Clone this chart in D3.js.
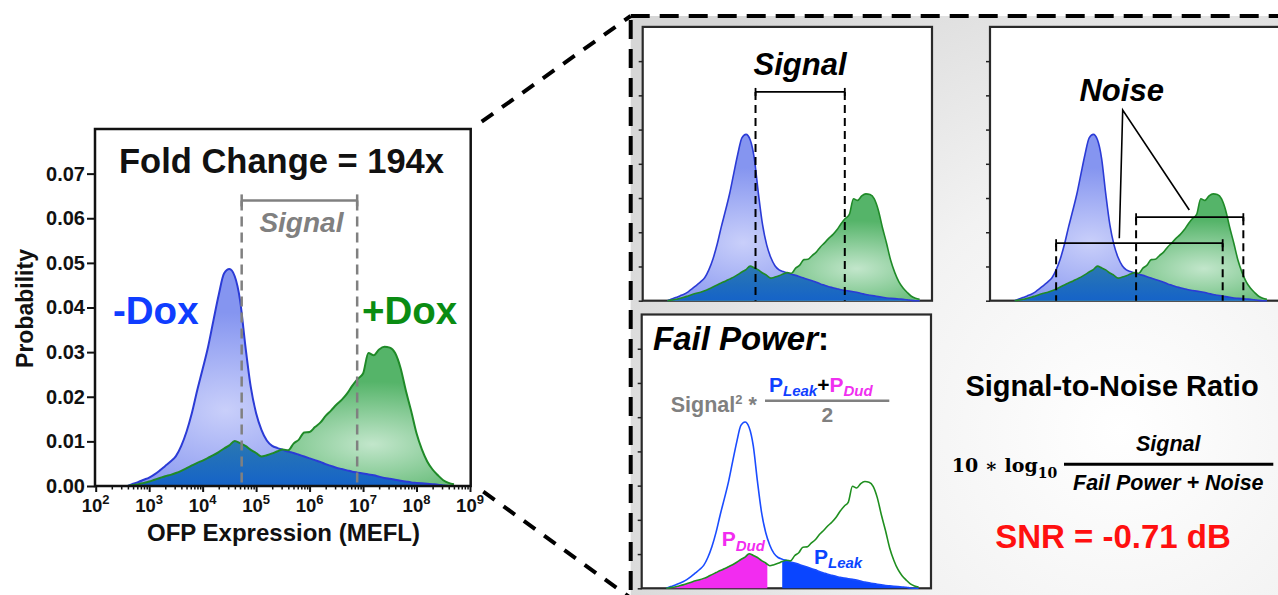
<!DOCTYPE html>
<html>
<head>
<meta charset="utf-8">
<script src="https://cdn.jsdelivr.net/npm/d3@7"></script>
<style>
body{margin:0;background:#fff;}
text{font-weight:bold;}
</style>
</head>
<body>
<svg id="fig" width="1278" height="595" font-family="Liberation Sans, Arial, sans-serif"></svg>
<script>
// histogram bins, log10(MEFL)
const logMEFL = [2.6,2.7,2.8,2.9,3.0,3.1,3.2,3.3,3.4,3.5,3.6,3.7,3.8,3.9,4.0,4.1,4.2,4.3,4.4,4.5,
  4.6,4.7,4.8,4.9,5.0,5.1,5.2,5.3,5.4,5.5,5.6,5.7,5.8,5.9,6.0,6.1,6.2,6.3,6.4,6.5,
  6.6,6.7,6.8,6.9,7.0,7.1,7.2,7.3,7.4,7.5,7.6,7.7,7.8,7.9,8.0,8.1,8.2,8.3,8.4,8.5,8.6,8.7];
// -Dox probability
const minusDox = [0,0.0005,0.0009,0.0014,0.0019,0.0026,0.0035,0.0045,0.0055,0.0067,0.0090,0.0122,0.0164,0.0215,0.0262,0.0311,0.0370,0.0428,0.0476,0.0486,
  0.0470,0.0416,0.0313,0.0222,0.0163,0.0126,0.0102,0.0090,0.0085,0.0081,0.0077,0.0074,0.0070,0.0066,0.0062,0.0058,0.0054,0.0049,0.0045,0.0041,
  0.0038,0.0035,0.0032,0.0030,0.0028,0.0026,0.0024,0.0021,0.0018,0.0016,0.0014,0.0012,0.0010,0.0008,0.0007,0.0006,0.0005,0.0004,0.0003,0.0001,0,0];
// +Dox probability
const plusDox = [0,0.0002,0.0004,0.0007,0.0010,0.0014,0.0018,0.0022,0.0025,0.0029,0.0034,0.0040,0.0046,0.0052,0.0057,0.0063,0.0069,0.0076,0.0084,0.0091,
  0.0101,0.0096,0.0090,0.0081,0.0074,0.0066,0.0069,0.0073,0.0078,0.0082,0.0080,0.0095,0.0104,0.0120,0.0121,0.0132,0.0142,0.0157,0.0169,0.0182,
  0.0193,0.0207,0.0225,0.0240,0.0252,0.0298,0.0293,0.0306,0.0312,0.0310,0.0298,0.0265,0.0214,0.0168,0.0118,0.0082,0.0055,0.0037,0.0024,0.0013,0.0007,0.0004];

const probTicks = [0,0.01,0.02,0.03,0.04,0.05,0.06,0.07];
const decades = [2,3,4,5,6,7,8,9];
const minorSteps = [2,3,4,5,6,7,8,9];
const signalEdges = [4.73, 6.89];
const noiseMinus = [3.60, 7.63];
const noisePlus = [5.535, 8.13];
const dudMax = 5.04, leakMin = 5.40;
const foldChange = 194;
const snrDb = -0.71;

const pts = logMEFL.map((l,i)=>({l:l, b:minusDox[i], g:plusDox[i]}));
const svg = d3.select('#fig');
const defs = svg.append('defs');

function radial(id, c0, c1, cx, cy, r){
  const gr = defs.append('radialGradient').attr('id',id)
    .attr('cx',cx).attr('cy',cy).attr('r',r);
  gr.append('stop').attr('offset','0').attr('stop-color',c0);
  gr.append('stop').attr('offset','1').attr('stop-color',c1);
}
radial('gBlue','#c9cffa','#8595f0',0.3,0.65,0.45);
radial('gGreen','#c2e6cb','#55b469',0.75,0.7,0.45);
const go = defs.append('linearGradient').attr('id','gOver').attr('x1',0).attr('y1',0).attr('x2',0).attr('y2',1);
go.append('stop').attr('offset','0').attr('stop-color','#2a78b2');
go.append('stop').attr('offset','1').attr('stop-color','#1563c8');
const bg = defs.append('radialGradient').attr('id','bgGray').attr('gradientUnits','userSpaceOnUse')
  .attr('cx',1120).attr('cy',430).attr('r',560);
bg.append('stop').attr('offset','0').attr('stop-color','#ffffff');
bg.append('stop').attr('offset','0.45').attr('stop-color','#f2f2f2');
bg.append('stop').attr('offset','1').attr('stop-color','#d6d6d6');

function areaOf(x, y, key){
  return d3.area().x(d=>x(Math.pow(10,d.l))).y0(y(0)).y1(d=>y(key(d))).curve(d3.curveMonotoneX);
}
function lineOf(x, y, key){
  return d3.line().x(d=>x(Math.pow(10,d.l))).y(d=>y(key(d))).curve(d3.curveMonotoneX);
}
function drawFilled(g, x, y, sw){
  g.append('path').datum(pts).attr('d',areaOf(x,y,d=>d.b)).attr('fill','url(#gBlue)');
  g.append('path').datum(pts).attr('d',areaOf(x,y,d=>d.g)).attr('fill','url(#gGreen)');
  g.append('path').datum(pts).attr('d',areaOf(x,y,d=>Math.min(d.b,d.g))).attr('fill','url(#gOver)');
  g.append('path').datum(pts).attr('d',lineOf(x,y,d=>d.b)).attr('fill','none').attr('stroke','#2b3bd6').attr('stroke-width',sw);
  g.append('path').datum(pts).attr('d',lineOf(x,y,d=>d.g)).attr('fill','none').attr('stroke','#1f8a28').attr('stroke-width',sw);
}
function bracket(g, x0, x1, yy, color, w, cap){
  g.append('line').attr('x1',x0).attr('x2',x1).attr('y1',yy).attr('y2',yy).attr('stroke',color).attr('stroke-width',w);
  [x0,x1].forEach(v=>g.append('line').attr('x1',v).attr('x2',v).attr('y1',yy-cap).attr('y2',yy+cap)
    .attr('stroke',color).attr('stroke-width',w));
}
function vdash(g, xx, y0, y1, color, w, dash){
  g.append('line').attr('x1',xx).attr('x2',xx).attr('y1',y0).attr('y2',y1)
    .attr('stroke',color).attr('stroke-width',w).attr('stroke-dasharray',dash);
}

// ---------- main chart ----------
const x = d3.scaleLog().domain([1e2,1e9]).range([95.7,470]);
const y = d3.scaleLinear().domain([0,0.08]).range([486,129]);
const main = svg.append('g');
drawFilled(main, x, y, 2);

// signal annotation
const sy = y(0.064);
signalEdges.forEach(v=>vdash(main, x(Math.pow(10,v)), sy, y(0), '#808080', 2.5, '10 6'));
bracket(main, x(Math.pow(10,signalEdges[0])), x(Math.pow(10,signalEdges[1])), sy, '#808080', 2.5, 6);
main.append('text').attr('x',(x(Math.pow(10,signalEdges[0]))+x(Math.pow(10,signalEdges[1])))/2+2).attr('y',231.7)
  .attr('text-anchor','middle').attr('font-size',28).attr('font-style','italic').attr('fill','#808080').text('Signal');

main.append('rect').attr('x',95).attr('y',129).attr('width',375.7).attr('height',357)
  .attr('fill','none').attr('stroke','#111').attr('stroke-width',2.5);

// axes
const minorVals = [];
decades.slice(0,-1).forEach(d=>minorSteps.forEach(m=>minorVals.push(m*Math.pow(10,d))));
const ax = svg.append('g').attr('transform','translate(0,486)');
ax.append('g').call(d3.axisBottom(x).tickValues(minorVals.filter(v=>v<1e9)).tickSize(3.5).tickFormat(''))
  .call(g=>g.select('.domain').remove()).selectAll('line').attr('stroke','#111').attr('stroke-width',1.5);
ax.append('g').call(d3.axisBottom(x).tickValues(decades.map(d=>Math.pow(10,d))).tickSize(6).tickFormat(''))
  .call(g=>g.select('.domain').remove()).selectAll('line').attr('stroke','#111').attr('stroke-width',2);
decades.forEach(d=>{
  const t = svg.append('text').attr('x',x(Math.pow(10,d))).attr('y',511.7).attr('text-anchor','middle')
    .attr('font-size',18.5).attr('fill','#111');
  t.append('tspan').text('10');
  t.append('tspan').attr('font-size',13).attr('dy',-8).text(d);
});
const ay = svg.append('g').attr('transform','translate(95,0)')
  .call(d3.axisLeft(y).tickValues(probTicks).tickSize(8).tickPadding(2).tickFormat(d3.format('.2f')))
  .call(g=>g.select('.domain').remove());
ay.attr('font-family',null).attr('font-size',null);
ay.selectAll('line').attr('stroke','#111').attr('stroke-width',2);
ay.selectAll('text').attr('font-size',20).attr('fill','#111');

svg.append('text').attr('transform','translate(33,308.5) rotate(-90)').attr('text-anchor','middle')
  .attr('font-size',23).attr('fill','#111').text('Probability');
svg.append('text').attr('x',283.5).attr('y',540.7).attr('text-anchor','middle')
  .attr('font-size',24).attr('fill','#111').text('OFP Expression (MEFL)');
svg.append('text').attr('x',281.5).attr('y',172.7).attr('text-anchor','middle')
  .attr('font-size',34.5).attr('fill','#111').text('Fold Change = ' + foldChange + 'x');
svg.append('text').attr('x',113).attr('y',324).attr('font-size',38.5).attr('fill','#0f3dff').text('-Dox');
svg.append('text').attr('x',362).attr('y',324).attr('font-size',38.5).attr('fill','#0a8c12').text('+Dox');

// ---------- zoom region ----------
svg.append('rect').attr('x',630.7).attr('y',16).attr('width',720).attr('height',582)
  .attr('fill','url(#bgGray)').attr('stroke','#000').attr('stroke-width',4).attr('stroke-dasharray','19 10');
svg.append('line').attr('x1',481.7).attr('y1',121.7).attr('x2',630.7).attr('y2',16)
  .attr('stroke','#000').attr('stroke-width',4).attr('stroke-dasharray','14 11');
svg.append('line').attr('x1',483.3).attr('y1',491.7).attr('x2',630.7).attr('y2',598)
  .attr('stroke','#000').attr('stroke-width',4).attr('stroke-dasharray','14 11');

function panel(ox, base, right){
  const px = d3.scaleLog().domain([1e2,1e9]).range([ox, ox+289.3]);
  const py = d3.scaleLinear().domain([0,0.08]).range([base, base-273.8]);
  const g = svg.append('g');
  g.append('rect').attr('x',ox).attr('y',py(0.08)).attr('width',(right||ox+289.3)-ox).attr('height',273.8)
    .attr('fill','#fff').attr('stroke','#2a2a2a').attr('stroke-width',2.2);
  g.append('g').attr('transform','translate('+ox+',0)')
    .call(d3.axisLeft(py).tickValues(probTicks).tickSize(4).tickFormat(''))
    .call(s=>s.select('.domain').remove()).selectAll('line').attr('stroke','#222').attr('stroke-width',1.5);
  return {g:g, x:px, y:py};
}

// panel A: signal
const A = panel(642.7, 300.7);
drawFilled(A.g, A.x, A.y, 1.6);
const ay0 = A.y(0.061);
signalEdges.forEach(v=>vdash(A.g, A.x(Math.pow(10,v)), ay0, A.y(0), '#000', 2, '8 5'));
bracket(A.g, A.x(Math.pow(10,signalEdges[0])), A.x(Math.pow(10,signalEdges[1])), ay0, '#000', 1.8, 4);
A.g.append('text').attr('x',800).attr('y',75).attr('text-anchor','middle').attr('font-size',31)
  .attr('font-style','italic').attr('fill','#000').text('Signal');

// panel B: noise
const B = panel(990, 300.7, 1290);
drawFilled(B.g, B.x, B.y, 1.6);
const bLow = B.y(0.0168), bHigh = B.y(0.0244);
noiseMinus.forEach(v=>vdash(B.g, B.x(Math.pow(10,v)), bLow, B.y(0), '#000', 2, '8 5'));
noisePlus.forEach(v=>vdash(B.g, B.x(Math.pow(10,v)), bHigh, B.y(0), '#000', 2, '8 5'));
bracket(B.g, B.x(Math.pow(10,noiseMinus[0])), B.x(Math.pow(10,noiseMinus[1])), bLow, '#000', 1.8, 4);
bracket(B.g, B.x(Math.pow(10,noisePlus[0])), B.x(Math.pow(10,noisePlus[1])), bHigh, '#000', 1.8, 4);
B.g.append('text').attr('x',1121.7).attr('y',100.7).attr('text-anchor','middle').attr('font-size',31)
  .attr('font-style','italic').attr('fill','#000').text('Noise');
B.g.append('path').attr('d','M1119.3,238.3L1122.7,110L1189.3,210').attr('fill','none')
  .attr('stroke','#000').attr('stroke-width',1.6);

// panel C: fail power
const C = panel(641.7, 588.3);
const cpD = defs.append('clipPath').attr('id','clipDud');
cpD.append('rect').attr('x',C.x(1e2)).attr('y',0).attr('width',C.x(Math.pow(10,dudMax))-C.x(1e2)).attr('height',595);
const cpL = defs.append('clipPath').attr('id','clipLeak');
cpL.append('rect').attr('x',C.x(Math.pow(10,leakMin))).attr('y',0).attr('width',C.x(1e9)-C.x(Math.pow(10,leakMin))).attr('height',595);
C.g.append('path').datum(pts).attr('d',areaOf(C.x,C.y,d=>Math.min(d.b,d.g))).attr('fill','#f22cf0').attr('clip-path','url(#clipDud)');
C.g.append('path').datum(pts).attr('d',areaOf(C.x,C.y,d=>Math.min(d.b,d.g))).attr('fill','#0a45ff').attr('clip-path','url(#clipLeak)');
C.g.append('path').datum(pts).attr('d',lineOf(C.x,C.y,d=>d.b)).attr('fill','none').attr('stroke','#1a4cff').attr('stroke-width',1.6);
C.g.append('path').datum(pts).attr('d',lineOf(C.x,C.y,d=>d.g)).attr('fill','none').attr('stroke','#1f8f1f').attr('stroke-width',1.6);

const fp = C.g.append('text').attr('x',653).attr('y',350).attr('font-size',33).attr('fill','#000');
fp.append('tspan').attr('font-style','italic').text('Fail Power');
fp.append('tspan').text(':');

const s2 = C.g.append('text').attr('x',670.7).attr('y',412.3).attr('font-size',21.5).attr('fill','#808080');
s2.append('tspan').text('Signal');
s2.append('tspan').attr('font-size',13).attr('dy',-8).text('2');
s2.append('tspan').attr('dy',8).text(' *');
const num = C.g.append('text').attr('x',769).attr('y',392.3).attr('font-size',21);
num.append('tspan').attr('fill','#1040ff').text('P');
num.append('tspan').attr('fill','#1040ff').attr('font-size',15).attr('font-style','italic').attr('dy',4).text('Leak');
num.append('tspan').attr('fill','#000').attr('dy',-4).text('+');
num.append('tspan').attr('fill','#f030f0').text('P');
num.append('tspan').attr('fill','#f030f0').attr('font-size',15).attr('font-style','italic').attr('dy',4).text('Dud');
C.g.append('line').attr('x1',765).attr('x2',889.3).attr('y1',400.7).attr('y2',400.7).attr('stroke','#808080').attr('stroke-width',2.5);
C.g.append('text').attr('x',827.3).attr('y',422.3).attr('text-anchor','middle').attr('font-size',21).attr('fill','#808080').text('2');

const pd = C.g.append('text').attr('x',721.7).attr('y',545.7).attr('font-size',21).attr('fill','#f22cf0');
pd.append('tspan').text('P');
pd.append('tspan').attr('font-size',15).attr('font-style','italic').attr('dy',5).text('Dud');
const pl = C.g.append('text').attr('x',814).attr('y',564.3).attr('font-size',21).attr('fill','#0a45ff');
pl.append('tspan').text('P');
pl.append('tspan').attr('font-size',15).attr('font-style','italic').attr('dy',4).text('Leak');

// ---------- SNR text ----------
svg.append('text').attr('x',1112).attr('y',396).attr('text-anchor','middle').attr('font-size',29)
  .attr('fill','#000').text('Signal-to-Noise Ratio');
const lg = svg.append('text').attr('x',951.7).attr('y',471.7).attr('font-size',19)
  .attr('font-family','DejaVu Serif, serif').attr('fill','#000');
lg.append('tspan').text('10 \u2217 log');
lg.append('tspan').attr('font-size',14).attr('dy',6).text('10');
svg.append('text').attr('x',1168.3).attr('y',450.7).attr('text-anchor','middle').attr('font-size',21.5)
  .attr('font-style','italic').attr('fill','#000').text('Signal');
svg.append('line').attr('x1',1064).attr('x2',1273.3).attr('y1',464.3).attr('y2',464.3).attr('stroke','#000').attr('stroke-width',3);
svg.append('text').attr('x',1168.3).attr('y',490).attr('text-anchor','middle').attr('font-size',21.5)
  .attr('font-style','italic').attr('fill','#000').text('Fail Power + Noise');
svg.append('text').attr('x',1113).attr('y',548.3).attr('text-anchor','middle').attr('font-size',33)
  .attr('fill','#ff1010').text('SNR = ' + snrDb.toFixed(2) + ' dB');
</script>
</body>
</html>
